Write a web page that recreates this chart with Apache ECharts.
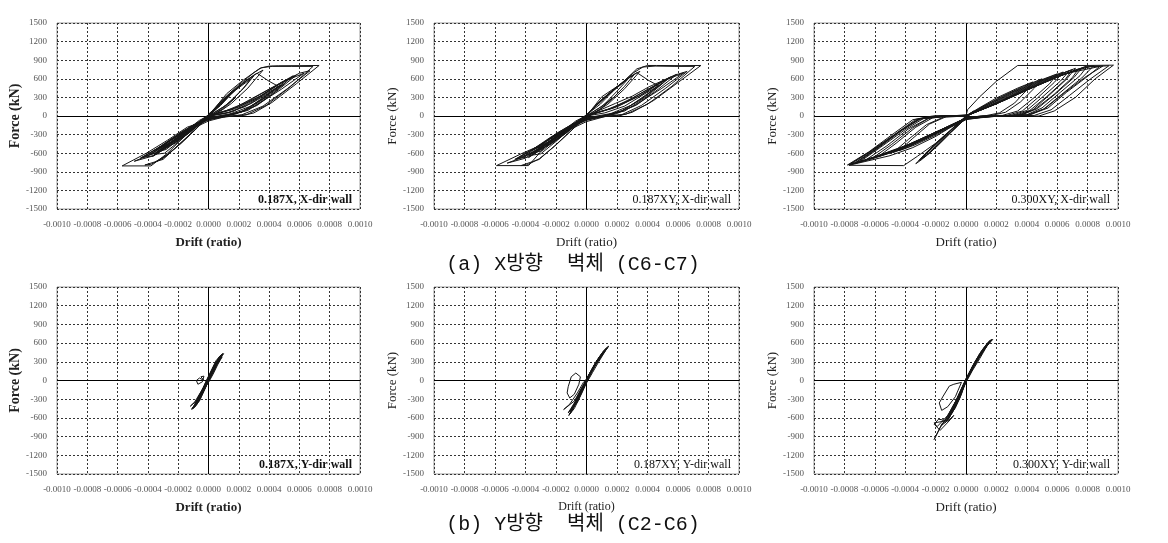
<!DOCTYPE html>
<html><head><meta charset="utf-8">
<script src="https://cdn.jsdelivr.net/npm/echarts@6/dist/echarts.min.js"></script>
<style>html,body{margin:0;padding:0;background:#fff}#c{width:1168px;height:543px}</style>
</head><body><div id="c"></div>
<script>
// ---- axis definitions ----
const driftMin = -0.001, driftMax = 0.001, driftStep = 0.0002;
const forceMin = -1500, forceMax = 1500, forceStep = 300;
const xName = 'Drift (ratio)';
const yName = 'Force (kN)';
const panelLabels = ['0.187X, X-dir wall', '0.187XY, X-dir wall', '0.300XY, X-dir wall',
                     '0.187X, Y-dir wall', '0.187XY, Y-dir wall', '0.300XY, Y-dir wall'];
const captionA = '(a) X방향  벽체 (C6-C7)';
const captionB = '(b) Y방향  벽체 (C2-C6)';

// ---- hysteresis loops [drift, force(kN)] ----
const p1Loops = [
 [[0,0],[0.00012,360],[0.00023,580],[0.00034,770],[0.00040,805],[0.00046,810],[0.00060,812],[0.00073,815],[0.00058,520],[0.00042,220],[0.00030,50],[0.00022,5],[0.00010,-10],[0,-60],[-0.00014,-180],[-0.00027,-390],[-0.00041,-600],[-0.00057,-805],[-0.00038,-805],[-0.00027,-600],[-0.00016,-330],[-0.00006,-120],[0,0]],
 [[0,20],[0.00010,280],[0.00020,500],[0.00030,700],[0.00035,780],[0.00042,800],[0.00055,800],[0.00069,800],[0.00054,470],[0.00038,170],[0.00025,20],[0.00012,-5],[0,-80],[-0.00012,-220],[-0.00025,-420],[-0.00040,-640],[-0.00049,-730],[-0.00036,-640],[-0.00022,-390],[-0.00010,-170],[0,10]],
 [[0,0],[0.00016,70],[0.00032,280],[0.00047,520],[0.00060,690],[0.00067,730],[0.00052,440],[0.00036,160],[0.00022,20],[0.00010,-20],[0,-50],[-0.00010,-150],[-0.00020,-300],[-0.00030,-470],[-0.00042,-650],[-0.00034,-590],[-0.00020,-350],[-0.00010,-170],[0,0]],
 [[0,10],[0.00015,100],[0.00030,300],[0.00045,500],[0.00056,650],[0.00041,330],[0.00026,90],[0.00010,0],[0,-40],[-0.00012,-200],[-0.00025,-400],[-0.00038,-610],[-0.00030,-520],[-0.00018,-300],[-0.00008,-140],[0,0]],
 [[0,0],[0.00010,250],[0.00020,470],[0.00030,660],[0.00036,740],[0.00026,450],[0.00015,200],[0.00005,30],[-0.00005,-80],[-0.00020,-350],[-0.00033,-560],[-0.00037,-650],[-0.00026,-490],[-0.00012,-260],[0,0]],
 [[0,30],[0.00008,200],[0.00018,420],[0.00028,600],[0.00022,420],[0.00012,180],[0.00003,40],[-0.00006,-70],[-0.00018,-300],[-0.00030,-520],[-0.00022,-440],[-0.00010,-220],[0,10]],
 [[0,0],[0.00020,150],[0.00035,330],[0.00050,560],[0.00063,690],[0.00048,430],[0.00030,150],[0.00015,20],[0,-60],[-0.00015,-240],[-0.00028,-440],[-0.00045,-680],[-0.00032,-570],[-0.00015,-280],[0,0]],
 [[0,0],[0.00012,90],[0.00025,220],[0.00040,430],[0.00053,600],[0.00042,400],[0.00028,160],[0.00015,40],[0,-30],[-0.00008,-120],[-0.00018,-260],[-0.00032,-520],[-0.00025,-450],[-0.00012,-240],[0,0]],
 [[0,0],[-0.00010,-250],[-0.00020,-480],[-0.00030,-680],[-0.00038,-780],[-0.00042,-790],[-0.00030,-700],[-0.00018,-430],[-0.00008,-200],[0,-20],[0.00010,120],[0.00018,300],[0.00010,150],[0,0]],
 [[0,0],[0.00014,60],[0.00028,200],[0.00042,400],[0.00050,520],[0.00038,300],[0.00024,80],[0.00012,10],[0,-20],[-0.00012,-180],[-0.00024,-360],[-0.00036,-560],[-0.00028,-470],[-0.00014,-250],[0,0]],
 [[0,0],[0.00008,230],[0.00016,400],[0.00024,560],[0.00030,650],[0.00024,470],[0.00016,270],[0.00008,100],[0,-20],[-0.00010,-180],[-0.00022,-380],[-0.00034,-580],[-0.00028,-540],[-0.00016,-310],[-0.00006,-110],[0,0]],
 [[0,10],[0.00009,240],[0.00019,450],[0.00027,610],[0.00032,690],[0.00040,560],[0.00046,480],[0.00036,280],[0.00022,70],[0.00008,-10],[0,-50],[-0.00013,-230],[-0.00026,-450],[-0.00036,-620],[-0.00029,-600],[-0.00018,-380],[-0.00008,-160],[0,0]],
 [[0,0],[0.00018,120],[0.00034,320],[0.00048,540],[0.00058,660],[0.00046,420],[0.00032,170],[0.00018,30],[0,-40],[-0.00016,-250],[-0.00030,-470],[-0.00044,-670],[-0.00036,-640],[-0.00022,-420],[-0.00010,-190],[0,0]],
 [[0,0],[-0.00009,-230],[-0.00018,-440],[-0.00027,-620],[-0.00035,-740],[-0.00028,-650],[-0.00017,-400],[-0.00007,-180],[0,-10],[0.00008,190],[0.00014,330],[0.00008,170],[0,0]],
 [[0,0],[0.00011,40],[0.00024,150],[0.00038,360],[0.00048,500],[0.00036,280],[0.00022,70],[0.00010,0],[0,-20],[-0.00011,-160],[-0.00022,-330],[-0.00034,-530],[-0.00026,-440],[-0.00013,-230],[0,0]],
 [[0,20],[0.00006,150],[0.00013,330],[0.00021,500],[0.00016,380],[0.00008,180],[0,20],[-0.00008,-120],[-0.00016,-260],[-0.00024,-430],[-0.00018,-360],[-0.00008,-170],[0,20]]
];
const p2Loops = [
 [[0,0],[0.00010,310],[0.00023,525],[0.00033,760],[0.00040,815],[0.00046,815],[0.00062,812],[0.00075,815],[0.00060,540],[0.00044,250],[0.00030,60],[0.00021,0],[0.00010,-10],[0,-70],[-0.00012,-200],[-0.00025,-420],[-0.00042,-600],[-0.00059,-800],[-0.00038,-800],[-0.00027,-490],[-0.00014,-225],[0,0]],
 [[0,10],[0.00011,290],[0.00022,510],[0.00031,700],[0.00037,790],[0.00045,805],[0.00058,800],[0.00071,800],[0.00056,480],[0.00040,190],[0.00026,30],[0.00012,-10],[0,-90],[-0.00013,-240],[-0.00027,-450],[-0.00040,-650],[-0.00052,-760],[-0.00040,-680],[-0.00025,-420],[-0.00012,-180],[0,0]],
 [[0,0],[0.00019,204],[0.00030,320],[0.00041,471],[0.00058,660],[0.00066,720],[0.00052,450],[0.00036,170],[0.00023,20],[0.00010,-15],[0,-60],[-0.00011,-170],[-0.00022,-330],[-0.00033,-520],[-0.00044,-660],[-0.00035,-600],[-0.00021,-360],[-0.00010,-160],[0,0]],
 [[0,10],[0.00016,120],[0.00030,290],[0.00044,480],[0.00055,630],[0.00040,320],[0.00025,80],[0.00010,0],[0,-40],[-0.00013,-210],[-0.00026,-410],[-0.00040,-630],[-0.00031,-540],[-0.00019,-310],[-0.00008,-130],[0,0]],
 [[0,0],[0.00009,240],[0.00019,450],[0.00029,640],[0.00035,720],[0.00025,440],[0.00014,190],[0.00004,30],[-0.00006,-90],[-0.00020,-340],[-0.00033,-580],[-0.00038,-670],[-0.00027,-500],[-0.00013,-270],[0,0]],
 [[0,20],[0.00007,180],[0.00017,400],[0.00027,590],[0.00020,400],[0.00011,170],[0.00002,30],[-0.00007,-80],[-0.00019,-310],[-0.00031,-540],[-0.00023,-450],[-0.00011,-230],[0,0]],
 [[0,0],[0.00021,160],[0.00036,340],[0.00051,570],[0.00064,700],[0.00049,440],[0.00031,160],[0.00016,20],[0,-60],[-0.00016,-250],[-0.00030,-460],[-0.00047,-700],[-0.00034,-590],[-0.00016,-290],[0,0]],
 [[0,0],[0.00013,100],[0.00026,230],[0.00041,440],[0.00054,610],[0.00043,410],[0.00029,170],[0.00016,40],[0,-30],[-0.00009,-130],[-0.00019,-270],[-0.00034,-530],[-0.00026,-460],[-0.00013,-240],[0,0]],
 [[0,0],[-0.00011,-260],[-0.00021,-490],[-0.00031,-690],[-0.00039,-790],[-0.00043,-800],[-0.00031,-700],[-0.00019,-440],[-0.00009,-210],[0,-20],[0.00009,110],[0.00017,290],[0.00009,140],[0,0]],
 [[0,0],[0.00008,220],[0.00016,390],[0.00025,570],[0.00031,660],[0.00025,480],[0.00017,280],[0.00009,110],[0,-20],[-0.00011,-190],[-0.00023,-400],[-0.00036,-600],[-0.00029,-560],[-0.00017,-320],[-0.00007,-120],[0,0]],
 [[0,10],[0.00010,250],[0.00020,460],[0.00028,620],[0.00033,700],[0.00041,570],[0.00047,490],[0.00037,290],[0.00023,80],[0.00009,-10],[0,-50],[-0.00014,-240],[-0.00028,-470],[-0.00038,-640],[-0.00030,-610],[-0.00019,-390],[-0.00009,-170],[0,0]],
 [[0,0],[0.00018,130],[0.00035,330],[0.00049,550],[0.00059,670],[0.00047,430],[0.00033,180],[0.00019,30],[0,-40],[-0.00017,-260],[-0.00032,-490],[-0.00046,-690],[-0.00038,-660],[-0.00023,-430],[-0.00011,-200],[0,0]],
 [[0,0],[0.00012,50],[0.00025,160],[0.00039,370],[0.00049,510],[0.00037,290],[0.00023,80],[0.00011,0],[0,-20],[-0.00012,-170],[-0.00024,-350],[-0.00036,-550],[-0.00027,-450],[-0.00014,-240],[0,0]],
 [[0,20],[0.00006,160],[0.00014,340],[0.00022,510],[0.00017,390],[0.00009,190],[0,20],[-0.00009,-130],[-0.00017,-280],[-0.00026,-450],[-0.00019,-370],[-0.00009,-180],[0,20]]
];
const p3Loops = [
 [[0,0],[0.00001,100],[0.00009,310],[0.00020,560],[0.00034,815],[0.00060,815],[0.00079,815],[0.00097,820],[0.00085,600],[0.00072,300],[0.00058,80],[0.00048,0],[0.00030,0],[0.00015,-5],[0,-60],[-0.00010,-180],[-0.00020,-330],[-0.00035,-510],[-0.00050,-640],[-0.00077,-795],[-0.00041,-800],[-0.00032,-650],[-0.00020,-440],[-0.00009,-200],[0,-20]],
 [[0,0],[0.00020,200],[0.00040,420],[0.00060,630],[0.00080,810],[0.00075,650],[0.00062,380],[0.00050,130],[0.00040,20],[0.00020,0],[0,-40],[-0.00020,-260],[-0.00040,-490],[-0.00060,-660],[-0.00076,-780],[-0.00062,-560],[-0.00045,-270],[-0.00032,-60],[-0.00020,0],[-0.00010,0],[0,20]],
 [[0,10],[0.00018,190],[0.00038,410],[0.00058,610],[0.00078,790],[0.00094,810],[0.00082,600],[0.00068,330],[0.00056,100],[0.00045,10],[0.00025,0],[0,-30],[-0.00018,-240],[-0.00036,-450],[-0.00056,-630],[-0.00072,-760],[-0.00058,-520],[-0.00042,-230],[-0.00030,-40],[-0.00015,0],[0,10]],
 [[0,0],[0.00015,180],[0.00032,380],[0.00050,570],[0.00068,730],[0.00062,560],[0.00050,300],[0.00040,90],[0.00030,10],[0.00015,0],[0,-40],[-0.00015,-220],[-0.00032,-420],[-0.00050,-590],[-0.00066,-710],[-0.00052,-480],[-0.00038,-210],[-0.00025,-40],[-0.00012,0],[0,0]],
 [[0,0],[0.00012,160],[0.00028,360],[0.00045,540],[0.00060,680],[0.00055,520],[0.00044,280],[0.00034,80],[0.00024,10],[0.00010,0],[0,-30],[-0.00012,-190],[-0.00028,-380],[-0.00044,-550],[-0.00058,-660],[-0.00046,-440],[-0.00033,-180],[-0.00022,-30],[-0.00010,0],[0,0]],
 [[0,0],[0.00022,230],[0.00042,450],[0.00062,650],[0.00074,760],[0.00070,620],[0.00058,350],[0.00046,120],[0.00036,15],[0.00018,0],[0,-40],[-0.00022,-300],[-0.00042,-520],[-0.00062,-690],[-0.00074,-770],[-0.00060,-540],[-0.00044,-250],[-0.00030,-50],[-0.00016,0],[0,10]],
 [[0,0],[0.00010,140],[0.00024,320],[0.00038,480],[0.00050,600],[0.00045,450],[0.00036,230],[0.00026,60],[0.00016,5],[0,-20],[-0.00010,-170],[-0.00024,-340],[-0.00038,-500],[-0.00048,-590],[-0.00038,-380],[-0.00026,-140],[-0.00015,-20],[0,0]],
 [[0,0],[0.00025,250],[0.00045,470],[0.00065,680],[0.00088,800],[0.00080,640],[0.00066,380],[0.00054,130],[0.00042,20],[0.00022,0],[0,-50],[-0.00025,-320],[-0.00045,-540],[-0.00064,-700],[-0.00078,-790],[-0.00064,-580],[-0.00048,-290],[-0.00035,-60],[-0.00022,0],[0,0]],
 [[0,0],[-0.00005,-120],[-0.00010,-230],[-0.00016,-360],[-0.00022,-490],[-0.00028,-640],[-0.00033,-770],[-0.00029,-700],[-0.00022,-540],[-0.00014,-350],[-0.00006,-170],[0,-40],[0.00004,60],[0,0]],
 [[0,0],[-0.00006,-140],[-0.00012,-280],[-0.00018,-420],[-0.00024,-560],[-0.00030,-700],[-0.00026,-640],[-0.00019,-480],[-0.00012,-300],[-0.00005,-140],[0,-30],[0.00003,40],[0,0]],
 [[0,0],[0.00017,170],[0.00035,390],[0.00055,600],[0.00072,770],[0.00066,590],[0.00054,320],[0.00044,100],[0.00034,10],[0.00016,0],[0,-30],[-0.00017,-230],[-0.00034,-430],[-0.00053,-610],[-0.00070,-740],[-0.00056,-500],[-0.00040,-220],[-0.00028,-40],[-0.00014,0],[0,0]],
 [[0,0],[0.00014,170],[0.00030,370],[0.00048,560],[0.00064,710],[0.00058,540],[0.00047,290],[0.00037,80],[0.00027,10],[0.00012,0],[0,-30],[-0.00014,-210],[-0.00030,-400],[-0.00047,-570],[-0.00062,-690],[-0.00049,-460],[-0.00035,-190],[-0.00024,-30],[-0.00011,0],[0,0]],
 [[0,0],[0.00024,240],[0.00044,460],[0.00064,670],[0.00082,800],[0.00090,805],[0.00078,620],[0.00064,360],[0.00052,120],[0.00040,15],[0.00020,0],[0,-45],[-0.00024,-310],[-0.00044,-530],[-0.00063,-695],[-0.00077,-785],[-0.00063,-570],[-0.00046,-280],[-0.00033,-55],[-0.00020,0],[0,0]],
 [[0,0],[0.00008,120],[0.00020,290],[0.00034,450],[0.00044,550],[0.00040,420],[0.00032,210],[0.00022,50],[0.00012,0],[0,-20],[-0.00008,-150],[-0.00020,-310],[-0.00034,-470],[-0.00044,-560],[-0.00035,-360],[-0.00024,-130],[-0.00013,-10],[0,0]],
 [[0,0],[-0.00004,-100],[-0.00009,-210],[-0.00015,-340],[-0.00021,-470],[-0.00027,-610],[-0.00031,-720],[-0.00027,-660],[-0.00020,-510],[-0.00013,-330],[-0.00005,-150],[0,-30],[0.00005,80],[0,0]],
 [[0,0],[-0.00007,-160],[-0.00013,-300],[-0.00019,-440],[-0.00025,-580],[-0.00029,-680],[-0.00024,-600],[-0.00017,-440],[-0.00010,-270],[-0.00004,-120],[0,-20]],
 [[0,0],[0.00021,210],[0.00041,430],[0.00061,640],[0.00078,780],[0.00084,810],[0.00076,610],[0.00063,350],[0.00051,110],[0.00041,10],[0.00021,0],[0,-40]],
 [[0,0],[0.00019,185],[0.00037,400],[0.00057,610],[0.00076,770],[0.00071,620],[0.00059,360],[0.00047,120],[0.00036,10],[0.00017,0],[0,-35]],
 [[0,-35],[-0.00019,-250],[-0.00038,-460],[-0.00058,-640],[-0.00073,-760],[-0.00059,-530],[-0.00043,-240],[-0.00031,-45],[-0.00016,0],[0,0]],
 [[0,0],[0.00016,175],[0.00034,390],[0.00053,590],[0.00070,750],[0.00065,580],[0.00053,310],[0.00042,90],[0.00032,10],[0.00014,0],[0,-30]]
];
const p4Loops = [
 [[0,0],[0.00003,150],[0.00006,300],[0.000095,434],[0.00007,380],[0.00003,210],[0,50],[-0.00003,-100],[-0.00007,-300],[-0.00010,-420],[-0.00011,-466],[-0.00008,-380],[-0.00004,-200],[0,0]],
 [[0,20],[0.00002,140],[0.00005,290],[0.00008,400],[0.00005,320],[0.00002,170],[-0.00001,20],[-0.00004,-140],[-0.00008,-330],[-0.00012,-412],[-0.00009,-340],[-0.00005,-180],[-0.00001,-20],[0,20]],
 [[0,0],[0.00004,170],[0.00007,330],[0.00009,410],[0.00006,300],[0.00002,130],[-0.00001,0],[-0.00005,-190],[-0.00009,-370],[-0.00007,-350],[-0.00003,-150],[0,0]],
 [[-0.00003,0],[-0.00006,40],[-0.00008,0],[-0.00007,-60],[-0.00004,-20],[-0.00003,70],[-0.00005,60],[-0.00003,0]],
 [[0,-30],[0.00003,100],[0.00006,250],[0.00009,380],[0.00006,280],[0.00003,130],[0,-20],[-0.00004,-200],[-0.00008,-400],[-0.00010,-440],[-0.00007,-330],[-0.00003,-130],[0,-30]],
 [[0,10],[0.00003,160],[0.00006,310],[0.00009,420],[0.00006,330],[0.00002,150],[-0.00001,10],[-0.00004,-160],[-0.00008,-360],[-0.00011,-450],[-0.00008,-360],[-0.00004,-170],[0,10]],
 [[0,0],[0.00002,110],[0.00005,260],[0.00007,350],[0.00004,250],[0.00001,100],[-0.00002,-40],[-0.00005,-220],[-0.00009,-420],[-0.00006,-330],[-0.00002,-120],[0,0]],
 [[0,0],[0.00002,90],[0.00004,200],[0.00007,330],[0.00010,430],[0.00008,400],[0.00005,280],[0.00002,130],[-0.00001,-20],[-0.00004,-180],[-0.00007,-340],[-0.00010,-450],[-0.00009,-430],[-0.00006,-300],[-0.00003,-140],[0,0]],
 [[0.00001,30],[0.00004,190],[0.00006,280],[0.00008,370],[0.00005,260],[0.00003,170],[0,0],[-0.00003,-160],[-0.00006,-320],[-0.00009,-400],[-0.00007,-300],[-0.00004,-160],[0.00001,30]]
];
const p5Loops = [
 [[0,0],[0.00004,200],[0.00009,380],[0.000146,552],[0.00011,470],[0.00006,280],[0.00002,80],[-0.00002,-80],[-0.00006,-280],[-0.00010,-480],[-0.000116,-562],[-0.00009,-460],[-0.00005,-250],[0,0]],
 [[0,20],[0.00004,180],[0.00008,350],[0.00012,480],[0.00009,400],[0.00005,240],[0.00001,60],[-0.00003,-120],[-0.00008,-330],[-0.00015,-466],[-0.00011,-380],[-0.00006,-200],[-0.00002,-30],[0,20]],
 [[0,0],[0.00003,150],[0.00007,300],[0.00011,440],[0.00007,330],[0.00003,160],[0,20],[-0.00004,-150],[-0.00008,-360],[-0.00012,-520],[-0.00009,-420],[-0.00004,-200],[0,0]],
 [[-0.00007,120],[-0.00010,60],[-0.00012,-100],[-0.000127,-200],[-0.00011,-280],[-0.00008,-220],[-0.00005,-60],[-0.00004,60],[-0.00007,120]],
 [[0,-40],[0.00004,130],[0.00008,300],[0.00013,500],[0.00010,420],[0.00006,250],[0.00002,60],[-0.00002,-120],[-0.00006,-320],[-0.00011,-540],[-0.00008,-450],[-0.00003,-200],[0,-40]],
 [[0,10],[0.00005,220],[0.00010,400],[0.00014,530],[0.00010,430],[0.00005,250],[0.00001,50],[-0.00003,-140],[-0.00008,-380],[-0.00011,-500],[-0.00008,-400],[-0.00004,-210],[0,10]],
 [[0,0],[0.00003,130],[0.00006,270],[0.00009,360],[0.00006,270],[0.00002,110],[-0.00001,-30],[-0.00005,-230],[-0.00009,-430],[-0.00006,-350],[-0.00002,-130],[0,0]],
 [[0,0],[0.00005,230],[0.00011,430],[0.00014,540],[0.00012,500],[0.00007,330],[0.00003,140],[-0.00001,-30],[-0.00005,-250],[-0.00009,-450],[-0.00011,-540],[-0.00010,-520],[-0.00006,-330],[-0.00002,-110],[0,0]],
 [[0.00001,40],[0.00004,170],[0.00008,330],[0.00011,450],[0.00008,360],[0.00004,200],[0,30],[-0.00003,-150],[-0.00007,-350],[-0.00010,-470],[-0.00007,-380],[-0.00003,-180],[0.00001,40]]
];
const p6Loops = [
 [[0,0],[0.00004,200],[0.00009,400],[0.00014,560],[0.000176,659],[0.00014,590],[0.00009,430],[0.00004,220],[0,20],[-0.00004,-200],[-0.00008,-420],[-0.00012,-600],[-0.00016,-700],[-0.00021,-948],[-0.00017,-760],[-0.00011,-520],[-0.00006,-300],[-0.00002,-100],[0,0]],
 [[0,20],[0.00003,160],[0.00008,360],[0.00012,500],[0.00016,620],[0.00012,520],[0.00007,340],[0.00002,120],[-0.00002,-80],[-0.00006,-300],[-0.00010,-500],[-0.00014,-650],[-0.00021,-680],[-0.00019,-740],[-0.00012,-560],[-0.00007,-340],[-0.00003,-140],[0,20]],
 [[0,0],[0.00005,220],[0.00010,420],[0.00015,600],[0.00011,480],[0.00006,280],[0.00001,60],[-0.00003,-160],[-0.00007,-380],[-0.00011,-580],[-0.00013,-650],[-0.00009,-500],[-0.00004,-260],[0,0]],
 [[-0.00003,-30],[-0.00008,-60],[-0.00011,-90],[-0.00015,-250],[-0.000176,-360],[-0.00016,-480],[-0.00012,-420],[-0.00007,-260],[-0.00003,-30]],
 [[0,-30],[0.00004,150],[0.00009,350],[0.00013,520],[0.00016,640],[0.00012,530],[0.00007,330],[0.00003,130],[-0.00001,-60],[-0.00005,-280],[-0.00009,-480],[-0.00013,-660],[-0.00016,-720],[-0.00012,-580],[-0.00007,-380],[-0.00003,-180],[0,-30]],
 [[-0.00008,-560],[-0.00012,-650],[-0.00018,-620],[-0.00021,-700],[-0.00017,-800],[-0.00010,-620],[-0.00008,-560]],
 [[0,10],[0.00005,230],[0.00010,430],[0.00015,610],[0.00017,650],[0.00013,550],[0.00008,370],[0.00003,160],[-0.00001,-40],[-0.00005,-260],[-0.00009,-460],[-0.00012,-620],[-0.00009,-520],[-0.00004,-280],[0,10]],
 [[0,0],[0.00003,140],[0.00007,310],[0.00011,460],[0.00008,360],[0.00004,200],[0,30],[-0.00004,-180],[-0.00008,-400],[-0.00010,-540],[-0.00007,-440],[-0.00003,-220],[0,0]],
 [[0,0],[0.00004,190],[0.00009,390],[0.00013,540],[0.00017,660],[0.00015,630],[0.00010,470],[0.00005,260],[0.00001,50],[-0.00003,-170],[-0.00007,-400],[-0.00011,-600],[-0.00014,-680],[-0.00012,-640],[-0.00008,-460],[-0.00004,-240],[0,0]],
 [[0.00001,30],[0.00005,210],[0.00009,380],[0.00013,530],[0.00010,450],[0.00006,300],[0.00002,100],[-0.00002,-110],[-0.00006,-330],[-0.00010,-530],[-0.00008,-470],[-0.00004,-260],[0.00001,30]]
];
const panelLoops = [p1Loops, p2Loops, p3Loops, p4Loops, p5Loops, p6Loops];

// ---- layout / style ----
const layouts = [
 {left:57, top:23, width:303, height:186},
 {left:434, top:23, width:305, height:186},
 {left:814, top:23, width:304, height:186},
 {left:57, top:287, width:303, height:187},
 {left:434, top:287, width:305, height:187},
 {left:814, top:287, width:304, height:187}
];
const boldPanel = [true, false, false, true, false, false];
const serif = "'Liberation Serif', 'Times New Roman', serif";

const grids = [], xAxes = [], yAxes = [], series = [], graphics = [];
layouts.forEach((g, i) => {
  grids.push({left:g.left, top:g.top, width:g.width, height:g.height, show:true,
    borderColor:'#9a9a9a', borderWidth:1, backgroundColor:'#fff', containLabel:false});
  xAxes.push({type:'value', gridIndex:i, min:driftMin, max:driftMax, interval:driftStep,
    axisLine:{show:false}, axisTick:{show:false},
    splitLine:{show:true, lineStyle:{color:'#333', type:[2,2], width:1}},
    axisLabel:{show:true, hideOverlap:false, showMinLabel:true, showMaxLabel:true, margin:11,
      fontFamily:serif, fontSize:9, color:'#555',
      formatter: v => Math.abs(v) < 1e-9 ? '0.0000' : v.toFixed(4)},
    name:xName, nameLocation:'middle', nameGap:27,
    nameTextStyle:{fontFamily:serif, fontSize: i===4 ? 12 : 13, color:'#222',
      fontWeight: boldPanel[i] ? 'bold' : 'normal'}});
  yAxes.push({type:'value', gridIndex:i, min:forceMin, max:forceMax, interval:forceStep,
    axisLine:{show:false}, axisTick:{show:false},
    splitLine:{show:true, lineStyle:{color:'#333', type:[2,2], width:1}},
    axisLabel:{show:true, margin:10, fontFamily:serif, fontSize:9, color:'#555',
      formatter: v => String(Math.round(v))},
    name:yName, nameLocation:'middle', nameGap: i%3===0 ? 22 : 16,
    nameTextStyle:{fontFamily:serif, fontSize: boldPanel[i] ? 14 : 13, color:'#222',
      fontWeight: boldPanel[i] ? 'bold' : 'normal'}});
  panelLoops[i].forEach((loop, k) => {
    const s = {type:'line', xAxisIndex:i, yAxisIndex:i, data:loop, showSymbol:false,
      symbol:'none', smooth:false, silent:true, z:3,
      lineStyle:{color:'#151515', width:1}};
    if (k === 0) {
      s.markLine = {silent:true, symbol:['none','none'], label:{show:false}, z:2,
        lineStyle:{color:'#000', type:'solid', width:1},
        data:[{xAxis:0},{yAxis:0}]};
    }
    series.push(s);
  });
  graphics.push({type:'text', right: 1168 - (g.left + g.width - 8), top: g.top + g.height - 15, z:10,
    style:{text:panelLabels[i], fill:'#111', font:(boldPanel[i]?'bold ':'') + '12px ' + serif}});
});
[[captionA, 265], [captionB, 525]].forEach(([t, y]) => {
  graphics.push({type:'text', x:573, y:y, z:10,
    style:{text:t, fill:'#111', textAlign:'center', textVerticalAlign:'middle',
      font:"20px 'Liberation Mono', 'Noto Sans CJK KR', monospace"}});
});

const chart = echarts.init(document.getElementById('c'), null, {renderer:'canvas'});
chart.setOption({animation:false, backgroundColor:'#fff', grid:grids, xAxis:xAxes, yAxis:yAxes,
  series:series, graphic:graphics});
</script></body></html>
